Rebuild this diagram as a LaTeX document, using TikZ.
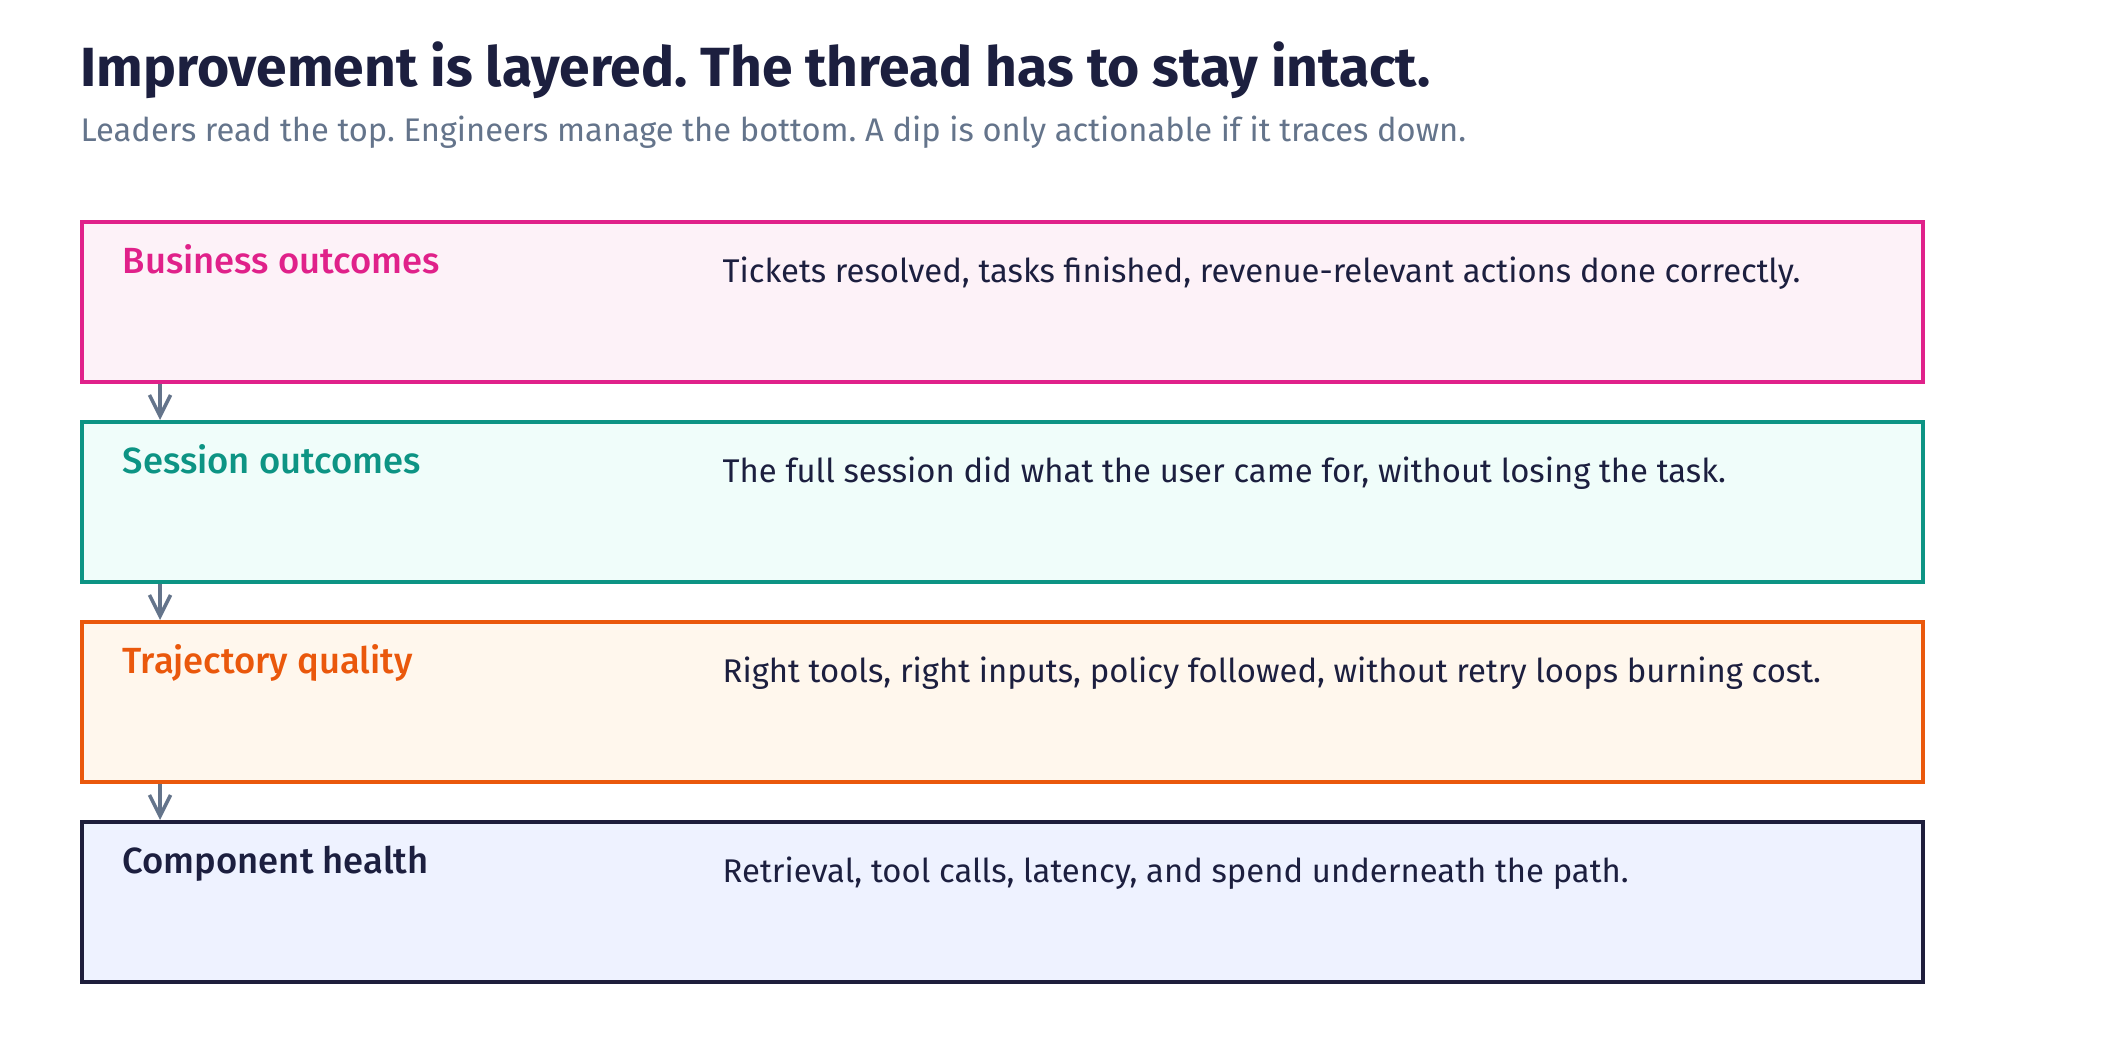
\documentclass[tikz,border=0pt]{standalone}
\usepackage{fontspec}
\setmainfont{Fira Sans}
\newfontfamily\midfont{Fira Sans Medium}
\usetikzlibrary{arrows.meta}
\frenchspacing
\definecolor{ink}{HTML}{1C1F3F}
\definecolor{muted}{HTML}{64748B}
\definecolor{bizline}{HTML}{E0218A}
\definecolor{bizfill}{HTML}{FDF2F8}
\definecolor{sessline}{HTML}{0D9484}
\definecolor{sessfill}{HTML}{F0FDFA}
\definecolor{trajline}{HTML}{EA580C}
\definecolor{trajfill}{HTML}{FFF7ED}
\definecolor{compline}{HTML}{1E1E3C}
\definecolor{compfill}{HTML}{EEF2FF}
\tikzset{
  layer/.style={rectangle, line width=1pt, minimum width=18.4cm, minimum height=1.6cm, anchor=north west, inner sep=0pt},
  lbl/.style={anchor=base west, inner sep=0pt, font=\midfont\fontsize{10.35}{12}\selectfont},
  desc/.style={anchor=base west, inner sep=0pt, text=ink, font=\fontsize{9.34}{11}\selectfont},
  flow/.style={draw=muted, line width=1pt, -{Straight Barb[length=6pt,width=6pt]}}
}
\begin{document}
\begin{tikzpicture}[x=0.01cm, y=-0.01cm]
        \useasboundingbox (0,0) rectangle (2120,1060);
        \node[anchor=base west, inner sep=0pt, text=ink, font=\bfseries\fontsize{15.7}{18}\selectfont] (title) at (80,86) {Improvement is layered. The thread has to stay intact.};
        \node[anchor=base west, inner sep=0pt, text=muted, font=\fontsize{9.3}{11}\selectfont] (subtitle) at (80,141) {Leaders read the top. Engineers manage the bottom. A dip is only actionable if it traces down.};
        \node[layer, draw=bizline, fill=bizfill] (biz) at (80,220) {};
        \node[layer, draw=sessline, fill=sessfill] (sess) at (80,420) {};
        \node[layer, draw=trajline, fill=trajfill] (traj) at (80,620) {};
        \node[layer, draw=compline, fill=compfill] (comp) at (80,820) {};
        \node[lbl, text=bizline] (bizname) at (122,273) {Business outcomes};
        \node[lbl, text=sessline] (sessname) at (122,473) {Session outcomes};
        \node[lbl, text=trajline] (trajname) at (122,673) {Trajectory quality};
        \node[lbl, text=ink] (compname) at (122,873) {Component health};
        \node[desc] (bizdesc) at (722,282) {Tickets resolved, tasks finished, revenue-relevant actions done correctly.};
        \node[desc] (sessdesc) at (722,482) {The full session did what the user came for, without losing the task.};
        \node[desc] (trajdesc) at (722,682) {Right tools, right inputs, policy followed, without retry loops burning cost.};
        \node[desc] (compdesc) at (722,882) {Retrieval, tool calls, latency, and spend underneath the path.};
        \draw[flow] ([xshift=0.8cm]biz.south west) -- ([xshift=0.8cm]sess.north west);
        \draw[flow] ([xshift=0.8cm]sess.south west) -- ([xshift=0.8cm]traj.north west);
        \draw[flow] ([xshift=0.8cm]traj.south west) -- ([xshift=0.8cm]comp.north west);
    \end{tikzpicture}
\end{document}
